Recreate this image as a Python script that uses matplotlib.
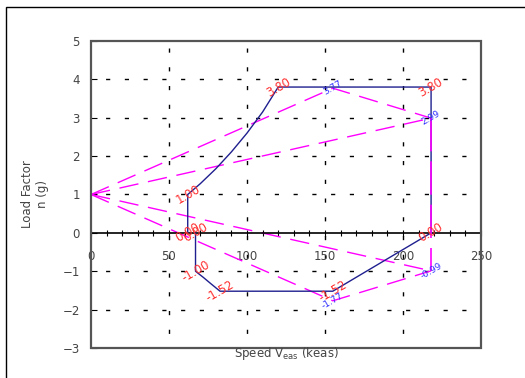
import numpy as np
import matplotlib
matplotlib.use("Agg")
import matplotlib.pyplot as plt
from matplotlib.patches import Rectangle

# maneuver envelope
env_v = [62, 62, 70, 80, 90, 100, 110, 120, 218, 218, 155, 82.7, 77, 72, 67, 67]
env_n = [0.0, 1.0, 1.28, 1.67, 2.11, 2.60, 3.15, 3.80, 3.80, 0.0, -1.52, -1.52, -1.33, -1.16, -1.0, 0.0]

# gust lines
gust_pos_v = [0, 155, 218]
gust_pos_n = [1.0, 3.77, 2.99]
gust_neg_v = [0, 155, 218]
gust_neg_n = [1.0, -1.77, -0.99]
gust_vd_v = [218, 218]
gust_vd_n = [2.99, -0.99]

# point labels
red_v = [62, 120, 218, 218, 155, 82.7, 67, 62, 67]
red_n = [1.0, 3.80, 3.80, 0.0, -1.52, -1.52, -1.0, 0.0, 0.0]
blue_v = [155, 218, 155, 218]
blue_n = [3.77, 2.99, -1.77, -0.99]

fig = plt.figure(figsize=(5.25, 3.78), dpi=100)
ax = fig.add_axes([91 / 525, 1 - 348 / 378, 390 / 525, 307 / 378])

# outer border (cut off at the right and bottom)
fig.patches.append(Rectangle((6 / 525, -0.1), 1.2, 1.1 - 7 / 378, transform=fig.transFigure,
                             fill=False, edgecolor="black", lw=1.0))

ax.set_xlim(0, 250)
ax.set_ylim(-3, 5)

grid_ls = (3, (3, 10.5))
for x in [50, 100, 150, 200]:
    ax.axvline(x, color="black", lw=1.0, ls=grid_ls, zorder=1)
for y in [-2, -1, 1, 2, 3, 4]:
    ax.axhline(y, color="black", lw=1.0, ls=grid_ls, zorder=1)

dash = (0, (14, 7))
ax.plot(gust_pos_v, gust_pos_n, color="#ff00ff", lw=1.0, ls=dash, zorder=2)
ax.plot([gust_pos_v[0], gust_pos_v[2]], [gust_pos_n[0], gust_pos_n[2]], color="#ff00ff", lw=1.0, ls=dash, zorder=2)
ax.plot(gust_neg_v, gust_neg_n, color="#ff00ff", lw=1.0, ls=dash, zorder=2)
ax.plot([gust_neg_v[0], gust_neg_v[2]], [gust_neg_n[0], gust_neg_n[2]], color="#ff00ff", lw=1.0, ls=dash, zorder=2)

ax.plot(env_v, env_n, color="#1f1f8f", lw=1.0, zorder=3)
ax.plot(gust_vd_v, gust_vd_n, color="#ff00ff", lw=1.2, ls=(0, (20, 6)), zorder=4)

for v, n in zip(red_v, red_n):
    ax.text(v, n, f"{n:.2f}", color="#ff3030", fontsize=8.5, rotation=30,
            ha="center", va="center", zorder=5)
for v, n in zip(blue_v, blue_n):
    ax.text(v, n, f"{n:.2f}", color="#3030ff", fontsize=6.5, rotation=30,
            ha="center", va="center", zorder=5)

# x axis sits on n = 0
ax.spines["bottom"].set_position(("data", 0))
ax.spines["bottom"].set_color("black")
ax.spines["bottom"].set_linewidth(1.2)
for s in ["top", "right", "left"]:
    ax.spines[s].set_visible(False)
ax.add_patch(Rectangle((0, 0), 1, 1, transform=ax.transAxes, fill=False,
                       edgecolor="#555555", lw=1.6, zorder=6, clip_on=False))

ax.set_xticks(np.arange(0, 251, 50))
ax.set_xticks(np.arange(0, 251, 10), minor=True)
ax.set_yticks(np.arange(-3, 6, 1))
ax.tick_params(axis="x", which="both", direction="inout", length=5, width=0.8,
               labelsize=8.5, labelcolor="#444444", pad=10)
ax.tick_params(axis="y", direction="in", length=4, width=0.8,
               labelsize=8.5, labelcolor="#444444", pad=8)

ax.set_ylabel("Load Factor\nn (g)", fontsize=8.5, color="#444444", labelpad=10)
fig.text(286 / 525, 1 - 354 / 378, "Speed V$_{\\mathrm{eas}}$ (keas)", fontsize=8.5,
         color="#444444", ha="center", va="center")

fig.savefig("out.png", dpi=100)
